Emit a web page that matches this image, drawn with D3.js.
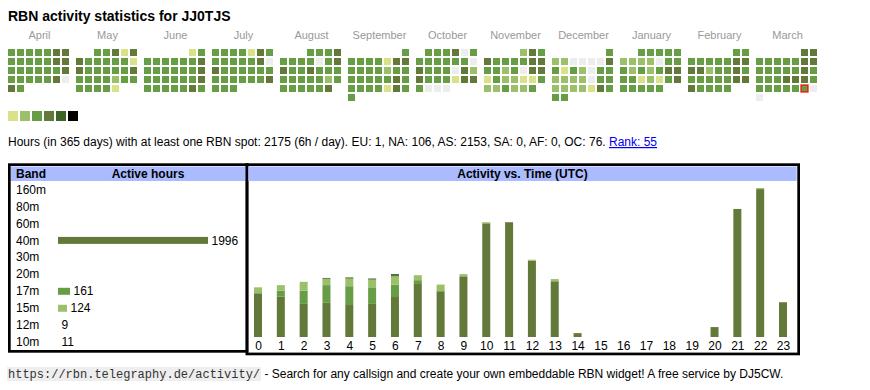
<!DOCTYPE html>
<html><head><meta charset="utf-8">
<script src="https://cdn.jsdelivr.net/npm/d3@7"></script>
<style>body{margin:0;background:#fff}svg{display:block;font-family:"Liberation Sans",Arial,sans-serif}</style>
</head><body><svg id="c" width="870" height="390"></svg>
<script>
// ---------- data ----------
const callsign = "JJ0TJS";
const monthNames = ["April","May","June","July","August","September","October","November","December","January","February","March"];
const startYear = 2024, startMonth = 3; // April 2024
// activity level per day (0 = none, 1..5 = increasing)
const lvApr = [3,3,3,3,3,4,4, 3,3,3,3,3,4,4, 3,3,3,3,3,3,4, 3,3,3,3,3,4,0, 4,3];
const lvMay = [3,3,4,1,4, 4,3,3,3,3,3,1, 4,3,3,3,3,3,4, 3,3,3,3,2,3,3, 3,3,3,3,1];
const lvJun = [1,3, 3,3,3,3,3,3,4, 3,3,3,3,3,3,4, 3,3,3,3,3,3,4, 3,3,3,3,3,4,3];
const lvJul = [3,3,3,3,1,4,3, 3,3,3,3,3,4,0, 4,3,3,3,3,3,3, 3,3,3,3,3,3,4, 3,3,3];
const lvAug = [3,3,3,4, 3,3,3,3,0,3,4, 4,3,3,4,3,3,3, 3,3,3,3,3,2,3, 3,3,3,3,3,4];
const lvSep = [3, 3,3,3,3,1,4,4, 3,3,3,3,2,3,3, 3,3,3,3,3,4,3, 3,3,3,3,1,4,3, 3];
const lvOct = [3,3,3,4,0,3, 3,3,3,3,3,3,0, 4,3,3,3,0,4,2, 4,3,3,3,1,4,4, 3,0,0,0];
const lvNov = [2,4,3, 4,3,3,3,3,4,4, 3,3,2,3,0,4,4, 1,3,2,2,1,1,3, 2,2,3,2,2,3];
const lvDec = [3, 2,2,0,0,0,0,4, 3,1,3,2,0,3,3, 2,2,2,2,0,3,3, 2,2,2,2,1,4,3, 3,3];
const lvJan = [3,3,3,3,3, 2,2,2,2,0,3,3, 3,2,3,2,3,4,4, 3,3,1,2,1,3,4, 3,3,3,3,3];
const lvFeb = [3,3, 3,3,3,3,3,4,4, 4,4,2,3,3,4,3, 3,3,3,3,3,4,4, 4,3,3,3,3];
const lvMar = [4,4, 3,3,3,3,3,4,4, 3,3,3,3,3,4,3, 3,3,3,4,4,4,3, 3,3,3,3,3,3,0, 0];
const dayLevels = [lvApr,lvMay,lvJun,lvJul,lvAug,lvSep,lvOct,lvNov,lvDec,lvJan,lvFeb,lvMar];
const todayMonth = 11, todayDay = 29;
const levelColors = ["#ededed","#dae289","#9cc069","#669d45","#637939","#3b6427","#000000"];
const legendLevels = [1,2,3,4,5,6];

const statsText = "Hours (in 365 days) with at least one RBN spot: 2175 (6h / day). EU: 1, NA: 106, AS: 2153, SA: 0, AF: 0, OC: 76. ";
const rankText = "Rank: 55";

const bands = ["160m","80m","60m","40m","30m","20m","17m","15m","12m","10m"];
const bandHours = [0,0,0,1996,0,0,161,124,9,11];
const bandColors = {"160m":"#3b6427","80m":"#3b6427","60m":"#3b6427","40m":"#637939","30m":"#3b6427","20m":"#3b6427","17m":"#669d45","15m":"#9cc069","12m":"#3b6427","10m":"#3b6427"};

const hourLabels = ["0","1","2","3","4","5","6","7","8","9","10","11","12","13","14","15","16","17","18","19","20","21","22","23"];
const h40 = [79,73,60,62,58,60,74,96,83,110,206,208,138,101,7,0,0,0,0,0,18,232,268,63];
const h17 = [2,11,24,32,34,30,21,7,0,0,0,0,0,0,0,0,0,0,0,0,0,0,0,0];
const h15 = [9,10,16,11,14,14,15,9,12,4,2,0,2,4,0,0,0,0,0,0,0,0,2,0];
const h12 = [0,0,0,1,1,1,2,0,0,0,0,0,0,0,0,0,0,0,0,0,0,0,0,0];
const h10 = [0,0,0,1,1,1,2,0,0,0,0,0,0,0,0,0,0,0,0,0,0,0,0,0];

const footerUrl = "https://rbn.telegraphy.de/activity/";
const footerText = " - Search for any callsign and create your own embeddable RBN widget! A free service by DJ5CW.";

// ---------- drawing ----------
const svg = d3.select("#c");

svg.append("text").attr("x",8).attr("y",21).attr("font-size",14).attr("font-weight","bold")
  .text("RBN activity statistics for " + callsign);

const monthX = d3.scaleBand().domain(d3.range(12)).range([8, 8+68*12-5]).paddingInner(5/68);
const colX = d3.scaleBand().domain(d3.range(7)).range([0, 61]).paddingInner(2/9);
const rowY = d3.scaleBand().domain(d3.range(6)).range([49, 101]).paddingInner(2/9);

const cal = svg.append("g");
dayLevels.forEach((lv, i) => {
  const yr = startYear + Math.floor((startMonth + i) / 12), mo = (startMonth + i) % 12;
  const off = (new Date(yr, mo, 1).getDay() + 6) % 7;
  const bx = monthX(i);
  cal.append("text").attr("x", bx + monthX.bandwidth()/2).attr("y", 39)
    .attr("text-anchor","middle").attr("fill","#999").attr("font-size",11).text(monthNames[i]);
  cal.append("g").selectAll("rect").data(lv).enter().append("rect")
    .attr("x", (d,j) => bx + colX((off + j) % 7))
    .attr("y", (d,j) => rowY(Math.floor((off + j) / 7)))
    .attr("width", colX.bandwidth()).attr("height", rowY.bandwidth())
    .attr("fill", d => levelColors[d])
    .attr("stroke", (d,j) => (i === todayMonth && j + 1 === todayDay) ? "#ff0000" : null)
    .attr("stroke-width", 1.2);
});

// legend
const legX = d3.scaleBand().domain(legendLevels).range([8, 8 + 12*6 - 2]).paddingInner(2/12);
svg.append("g").selectAll("rect").data(legendLevels).enter().append("rect")
  .attr("x", d => legX(d)).attr("y", 111)
  .attr("width", legX.bandwidth()).attr("height", legX.bandwidth())
  .attr("fill", d => levelColors[d]);

// stats text
const st = svg.append("text").attr("x",8).attr("y",146).attr("font-size",12).style("white-space","pre");
st.append("tspan").text(statsText);
st.append("tspan").attr("fill","#0000ee").attr("text-decoration","underline").text(rankText);

// ---- band table ----
const bw = 2.7;
svg.append("rect").attr("x",8+bw/2).attr("y",163.3+bw/2).attr("width",240.5-bw).attr("height",189.4-bw)
  .attr("fill","none").attr("stroke","#000").attr("stroke-width",bw);
svg.append("rect").attr("x",11).attr("y",166.5).attr("width",235).attr("height",14.5).attr("fill","#aabbff");
svg.append("text").attr("x",16).attr("y",177.5).attr("font-size",12).attr("font-weight","bold").text("Band");
svg.append("text").attr("x",148).attr("y",177.5).attr("font-size",12).attr("font-weight","bold")
  .attr("text-anchor","middle").text("Active hours");

const bandY = d3.scalePoint().domain(bands).range([189.3, 342]);
const bandX = d3.scaleLinear().domain([0, d3.max(bandHours)]).range([0, 150]);
const brow = svg.append("g").selectAll("g").data(bands).enter().append("g");
brow.append("text").attr("x",16).attr("y", d => bandY(d) + 4.3).attr("font-size",12).text(d => d);
brow.filter((d,i) => bandHours[i] > 0).append("rect")
  .attr("x",58).attr("y", d => bandY(d) - 3.3)
  .attr("width", d => Math.floor(bandX(bandHours[bands.indexOf(d)])))
  .attr("height",7).attr("fill", d => bandColors[d]);
brow.filter((d,i) => bandHours[i] > 0).append("text")
  .attr("x", d => 58 + Math.floor(bandX(bandHours[bands.indexOf(d)])) + 3.5)
  .attr("y", d => bandY(d) + 4.3).attr("font-size",12)
  .text(d => bandHours[bands.indexOf(d)]);

// ---- activity vs time ----
svg.append("rect").attr("x",245.5+bw/2).attr("y",163.3+bw/2).attr("width",554.5-bw).attr("height",192-bw)
  .attr("fill","none").attr("stroke","#000").attr("stroke-width",bw);
svg.append("rect").attr("x",248.3).attr("y",166.5).attr("width",548.4).attr("height",14.5).attr("fill","#aabbff");
svg.append("text").attr("x",522.5).attr("y",177.5).attr("font-size",12).attr("font-weight","bold")
  .attr("text-anchor","middle").text("Activity vs. Time (UTC)");

const keys = ["40m","17m","15m","12m","10m"];
const series = {"40m":h40,"17m":h17,"15m":h15,"12m":h12,"10m":h10};
const rows = hourLabels.map((h,i) => { const o = {hour:h}; keys.forEach(k => o[k] = series[k][i]); return o; });
const stacked = d3.stack().keys(keys)(rows);
const xH = d3.scalePoint().domain(hourLabels).range([258, 783]);
const yH = d3.scaleLinear().domain([0, d3.max(rows, r => d3.sum(keys, k => r[k]))]).range([337, 188]);
const barW = 8;
svg.append("g").selectAll("g").data(stacked).enter().append("g")
  .attr("fill", s => bandColors[s.key])
  .selectAll("rect").data(s => s).enter().append("rect")
  .attr("x", d => xH(d.data.hour) - barW/2).attr("width", barW)
  .attr("y", d => yH(d[1])).attr("height", d => yH(d[0]) - yH(d[1]));

const ax = svg.append("g").attr("transform","translate(0,337)")
  .call(d3.axisBottom(xH).tickSize(0).tickPadding(4.5));
ax.select(".domain").remove();
ax.selectAll("text").attr("font-size",12).attr("fill","#000").attr("font-family",'"Liberation Sans",Arial,sans-serif');

// ---- footer ----
const fu = svg.append("text").attr("x",8).attr("y",378).attr("font-size",12)
  .attr("font-family",'"Liberation Mono","DejaVu Sans Mono",monospace').attr("fill","#333").text(footerUrl);
const fb = fu.node().getBBox();
svg.insert("rect","text").attr("x",fb.x-1).attr("y",367).attr("width",fb.width+2).attr("height",14).attr("fill","#eeeeee");
svg.append("text").attr("x",fb.x+fb.width+1).attr("y",378).attr("font-size",12).style("white-space","pre").text(footerText);
</script></body></html>
